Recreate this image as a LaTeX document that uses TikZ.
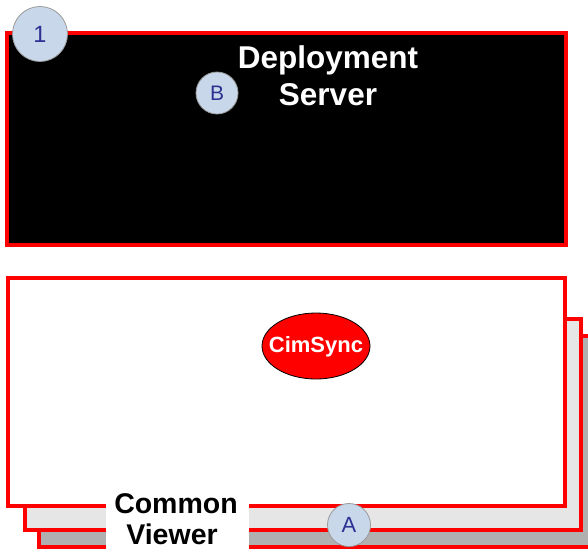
\documentclass[tikz,border=0pt]{standalone}
\usepackage{fontspec}
\setmainfont{Liberation Sans}
\usetikzlibrary{shapes.geometric}
\definecolor{bubblefill}{HTML}{C8D8EA}
\definecolor{bubbletext}{HTML}{2E3192}
\definecolor{layertwo}{HTML}{E6E6E6}
\definecolor{layerthree}{HTML}{B0B0B0}
\tikzset{
  redframe/.style={draw=red, line width=4pt},
  bubble/.style={circle, draw=gray!80, line width=0.8pt, fill=bubblefill, text=bubbletext, inner sep=0pt},
  whitetitle/.style={text=white, font=\bfseries\fontsize{31.5}{36}\selectfont, inner sep=0pt, anchor=base},
  blacktitle/.style={text=black, font=\bfseries\fontsize{28.5}{33}\selectfont, inner sep=0pt, anchor=base}
}
\begin{document}
\begin{tikzpicture}[x=1pt,y=-1pt]
\useasboundingbox (0,0) rectangle (588,550);
\clip (0,0) rectangle (588,550);
% stacked viewer layers
\draw[redframe, fill=layerthree] (39,336) rectangle (620,547);
\draw[redframe, fill=layertwo] (25,319) rectangle (581,530);
\draw[redframe, fill=white] (8,278) rectangle (565,506);
\node[ellipse, draw=black, line width=0.8pt, fill=red, minimum width=108pt, minimum height=66pt, inner sep=0pt] (cimsync) at (316,346) {};
\node[text=white, font=\bfseries\fontsize{22}{26}\selectfont, inner sep=0pt] (cimtext) at (316,347) {CimSync};
\node[fill=white, minimum width=143pt, minimum height=64pt, inner sep=0pt] (cvbg) at (177.5,521) {};
\node[blacktitle] (common) at (176,513) {Common};
\node[blacktitle] (viewer) at (172,544) {Viewer};
\node[bubble, minimum size=43pt, font=\fontsize{22}{26}\selectfont] (bubA) at (349,525) {A};
% deployment server
\draw[redframe, fill=black] (7,33) rectangle (566,245);
\node[whitetitle] (dep) at (328,68) {Deployment};
\node[whitetitle] (srv) at (328,105) {Server};
\node[bubble, minimum size=42pt, font=\fontsize{21}{25}\selectfont] (bubB) at (217,93) {B};
\node[bubble, minimum size=55pt, font=\fontsize{23.5}{28}\selectfont] (bub1) at (40,34) {1};
\end{tikzpicture}
\end{document}
